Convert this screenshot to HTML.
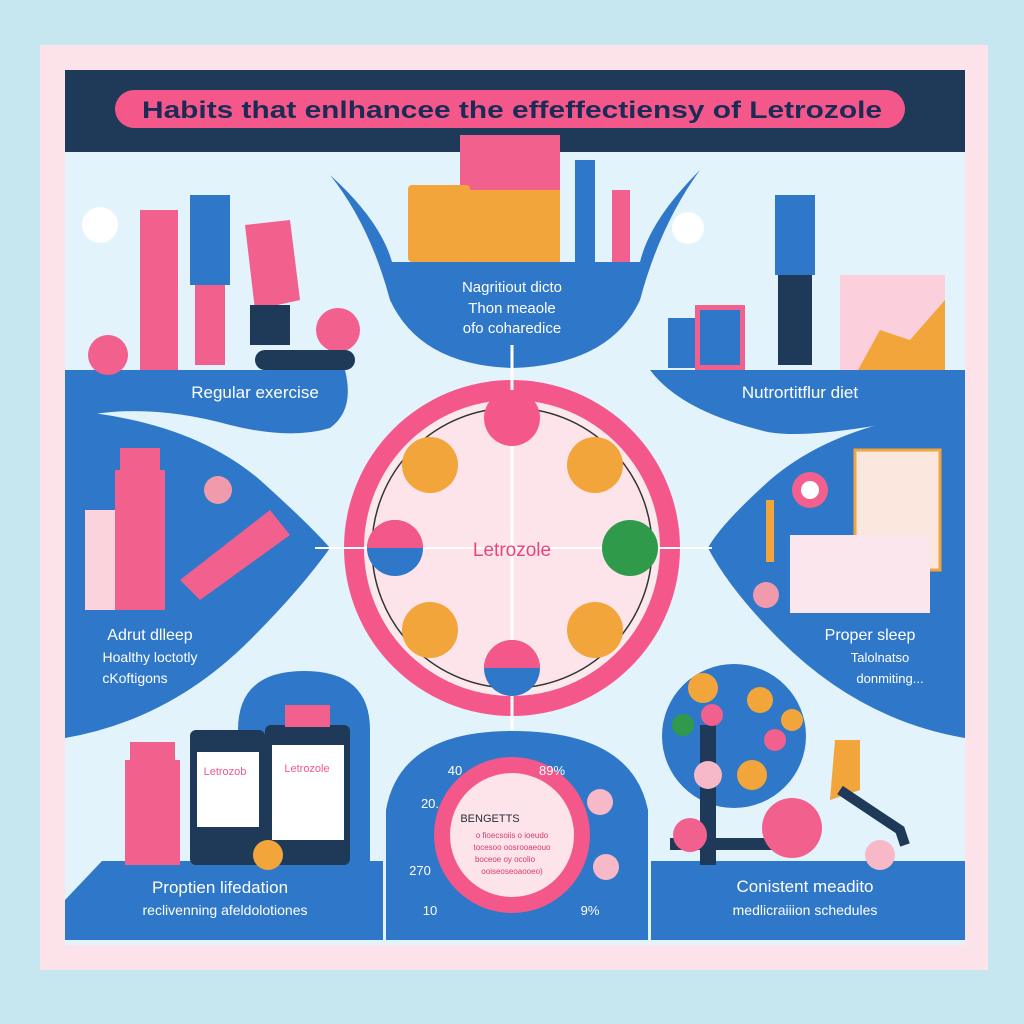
<!DOCTYPE html>
<html><head><meta charset="utf-8"><style>
html,body{margin:0;padding:0;background:#c6e7ef;}
svg{display:block}
text{font-family:"Liberation Sans",sans-serif}
</style></head><body>
<svg width="1024" height="1024" viewBox="0 0 1024 1024">
<rect width="1024" height="1024" fill="#c6e7ef"/>
<rect x="40" y="45" width="948" height="925" fill="#fbe3e9"/>
<rect x="65" y="70" width="900" height="875" fill="#e3f3fb"/>
<rect x="65" y="70" width="900" height="82" fill="#1e3a58"/>
<rect x="115" y="90" width="790" height="38" rx="19" fill="#f4588a"/>
<text x="142" y="118" font-size="24" font-weight="bold" fill="#1b2b55" textLength="740" lengthAdjust="spacingAndGlyphs">Habits that enlhancee the effeffectiensy of Letrozole</text>

<path d="M65 370 H345 Q355 410 330 428 Q290 440 230 425 Q140 400 65 420 Z" fill="#2f77c8"/>
<text x="255" y="398" font-size="17" text-anchor="middle" fill="#fff">Regular exercise</text>
<path d="M330 175 Q380 220 392 262 H640 Q650 220 700 170 Q660 225 640 300 Q610 365 512 368 Q420 365 390 300 Q370 225 330 175 Z" fill="#2f77c8"/>
<text x="512" y="292" font-size="15" text-anchor="middle" fill="#fff">Nagritiout dicto</text>
<text x="512" y="313" font-size="15" text-anchor="middle" fill="#fff">Thon meaole</text>
<text x="512" y="333" font-size="15" text-anchor="middle" fill="#fff">ofo coharedice</text>
<path d="M650 370 H965 V440 Q930 420 880 425 Q790 440 760 430 Q680 410 650 370 Z" fill="#2f77c8"/>
<text x="800" y="398" font-size="17" text-anchor="middle" fill="#fff">Nutrortitflur diet</text>

<path d="M65 410 Q190 420 260 480 Q310 525 330 548 Q300 590 250 640 Q170 720 65 738 Z" fill="#2f77c8"/>
<path d="M965 410 Q840 420 770 480 Q720 525 708 548 Q730 590 780 640 Q860 720 965 738 Z" fill="#2f77c8"/>
<text x="150" y="640" font-size="16" text-anchor="middle" fill="#fff">Adrut dlleep</text>
<text x="150" y="662" font-size="14" text-anchor="middle" fill="#fff">Hoalthy loctotly</text>
<text x="135" y="683" font-size="14" text-anchor="middle" fill="#fff">cKoftigons</text>
<text x="870" y="640" font-size="16" text-anchor="middle" fill="#fff">Proper sleep</text>
<text x="880" y="662" font-size="13" text-anchor="middle" fill="#fff">Talolnatso</text>
<text x="890" y="683" font-size="13" text-anchor="middle" fill="#fff">donmiting...</text>

<rect x="115" y="470" width="50" height="140" fill="#f2608d"/>
<rect x="120" y="448" width="40" height="24" fill="#f2608d"/>
<rect x="85" y="510" width="30" height="100" fill="#fbd3dd"/>
<path d="M180 580 L270 510 L290 535 L200 600 Z" fill="#f2608d"/>
<circle cx="218" cy="490" r="14" fill="#f09aac"/>

<rect x="855" y="450" width="85" height="120" fill="#fbe7dd" stroke="#f2a53a" stroke-width="3"/>
<rect x="790" y="535" width="140" height="78" fill="#fbe6ee"/>
<circle cx="810" cy="490" r="18" fill="#f2608d"/><circle cx="810" cy="490" r="9" fill="#fff"/>
<rect x="766" y="500" width="8" height="62" fill="#f2a53a"/>
<circle cx="766" cy="595" r="13" fill="#f09aac"/>

<circle cx="512" cy="548" r="168" fill="#f4588a"/>
<circle cx="512" cy="548" r="148" fill="#fce9ee"/>
<circle cx="512" cy="548" r="140" fill="#fde4ea" stroke="#333" stroke-width="1.5"/>
<line x1="512" y1="345" x2="512" y2="730" stroke="#fff" stroke-width="3"/>
<line x1="315" y1="548" x2="712" y2="548" stroke="#fff" stroke-width="2"/>
<circle cx="512" cy="418" r="28" fill="#f4588a"/>
<circle cx="512" cy="668" r="28" fill="#2f77c8"/><path d="M484 668 A28 28 0 0 1 540 668 Z" fill="#f4588a"/>
<circle cx="395" cy="548" r="28" fill="#2f77c8"/><path d="M367 548 A28 28 0 0 1 423 548 Z" fill="#f4588a"/>
<circle cx="630" cy="548" r="28" fill="#2f9a4a"/>
<circle cx="430" cy="465" r="28" fill="#f2a53a"/>
<circle cx="595" cy="465" r="28" fill="#f2a53a"/>
<circle cx="430" cy="630" r="28" fill="#f2a53a"/>
<circle cx="595" cy="630" r="28" fill="#f2a53a"/>
<text x="512" y="556" font-size="19" text-anchor="middle" fill="#e8457a">Letrozole</text>

<path d="M238 861 V730 Q238 671 304 671 Q370 671 370 730 V861 Z" fill="#2f77c8"/>
<path d="M102 861 H383 V940 H65 V900 Z" fill="#2f77c8"/>
<rect x="125" y="760" width="55" height="105" fill="#f2608d"/>
<rect x="130" y="742" width="45" height="20" fill="#f2608d"/>
<rect x="190" y="730" width="75" height="135" rx="6" fill="#1e3a58"/>
<rect x="197" y="752" width="62" height="75" fill="#fff"/>
<rect x="265" y="725" width="85" height="140" rx="6" fill="#1e3a58"/>
<rect x="272" y="745" width="72" height="95" fill="#fff"/>
<rect x="285" y="705" width="45" height="22" fill="#f2608d"/>
<text x="225" y="775" font-size="11" text-anchor="middle" fill="#f4588a">Letrozob</text>
<text x="307" y="772" font-size="11" text-anchor="middle" fill="#f4588a">Letrozole</text>
<circle cx="268" cy="855" r="15" fill="#f2a53a"/>
<text x="220" y="893" font-size="17" text-anchor="middle" fill="#fff">Proptien lifedation</text>
<text x="225" y="915" font-size="14" text-anchor="middle" fill="#fff">reclivenning afeldolotiones</text>

<path d="M386 940 V810 Q400 731 512 731 Q632 731 648 810 V940 Z" fill="#2f77c8"/>
<circle cx="512" cy="835" r="78" fill="#f4588a"/>
<circle cx="512" cy="835" r="62" fill="#fde4ea"/>
<text x="490" y="822" font-size="11" text-anchor="middle" fill="#2a2a3a">BENGETTS</text>
<text x="512" y="838" font-size="8" text-anchor="middle" fill="#d83a70">o fioecsoiis o ioeudo</text>
<text x="512" y="850" font-size="8" text-anchor="middle" fill="#d83a70">tocesoo oosrooaeouo</text>
<text x="505" y="862" font-size="8" text-anchor="middle" fill="#d83a70">boceoe oy ocolio</text>
<text x="512" y="874" font-size="8" text-anchor="middle" fill="#d83a70">ooiseoseoaooeo)</text>
<text x="455" y="775" font-size="13" fill="#fff" text-anchor="middle">40</text>
<text x="552" y="775" font-size="13" fill="#fff" text-anchor="middle">89%</text>
<text x="430" y="808" font-size="13" fill="#fff" text-anchor="middle">20.</text>
<text x="420" y="875" font-size="13" fill="#fff" text-anchor="middle">270</text>
<text x="430" y="915" font-size="13" fill="#fff" text-anchor="middle">10</text>
<text x="590" y="915" font-size="13" fill="#fff" text-anchor="middle">9%</text>
<circle cx="600" cy="802" r="13" fill="#f7b8c8"/><circle cx="606" cy="867" r="13" fill="#f7b8c8"/>

<circle cx="734" cy="736" r="72" fill="#2f77c8"/>
<path d="M651 861 H965 V940 H651 Z" fill="#2f77c8"/>
<rect x="700" y="725" width="16" height="140" fill="#1e3a58"/>
<rect x="670" y="838" width="120" height="12" fill="#1e3a58"/>
<circle cx="703" cy="688" r="15" fill="#f2a53a"/><circle cx="760" cy="700" r="13" fill="#f2a53a"/>
<circle cx="683" cy="725" r="11" fill="#2f9a4a"/><circle cx="712" cy="715" r="11" fill="#f2608d"/>
<circle cx="775" cy="740" r="11" fill="#f2608d"/><circle cx="752" cy="775" r="15" fill="#f2a53a"/>
<circle cx="708" cy="775" r="14" fill="#f7b8c8"/><circle cx="792" cy="720" r="11" fill="#f2a53a"/>
<circle cx="690" cy="835" r="17" fill="#f2608d"/>
<circle cx="792" cy="828" r="30" fill="#f2608d"/>
<circle cx="880" cy="855" r="15" fill="#f7b8c8"/>
<path d="M835 740 L860 740 L860 790 L830 800 Z" fill="#f2a53a"/>
<path d="M840 790 L900 830 L905 845" stroke="#1e3a58" stroke-width="10" fill="none"/>
<text x="805" y="892" font-size="17" text-anchor="middle" fill="#fff">Conistent meadito</text>
<text x="805" y="915" font-size="14" text-anchor="middle" fill="#fff">medlicraiiion schedules</text>

<rect x="140" y="210" width="38" height="160" fill="#f2608d"/>
<rect x="190" y="195" width="40" height="90" fill="#2f77c8"/>
<rect x="195" y="285" width="30" height="80" fill="#f2608d"/>
<path d="M245 225 L290 220 L300 300 L255 310 Z" fill="#f2608d"/>
<rect x="250" y="305" width="40" height="40" fill="#1e3a58"/>
<circle cx="108" cy="355" r="20" fill="#f2608d"/>
<circle cx="338" cy="330" r="22" fill="#f2608d"/>
<rect x="255" y="350" width="100" height="20" rx="10" fill="#1e3a58"/>
<circle cx="100" cy="225" r="18" fill="#fff"/>

<rect x="460" y="135" width="100" height="127" fill="#f2608d"/>
<rect x="460" y="190" width="100" height="72" fill="#f2a53a"/>
<rect x="408" y="185" width="62" height="77" rx="4" fill="#f2a53a"/>
<rect x="575" y="160" width="20" height="102" fill="#2f77c8"/>
<rect x="612" y="190" width="18" height="72" fill="#f2608d"/>

<rect x="775" y="195" width="40" height="80" fill="#2f77c8"/>
<rect x="778" y="275" width="34" height="90" fill="#1e3a58"/>
<rect x="840" y="275" width="105" height="95" fill="#fbd0dc"/>
<path d="M858 370 L880 330 L910 340 L945 300 V370 Z" fill="#f2a53a"/>
<rect x="668" y="318" width="55" height="50" fill="#2f77c8"/>
<rect x="695" y="305" width="50" height="65" fill="#f2608d"/>
<rect x="700" y="310" width="40" height="55" fill="#2f77c8"/>
<circle cx="688" cy="228" r="16" fill="#fff"/>
</svg>
</body></html>
